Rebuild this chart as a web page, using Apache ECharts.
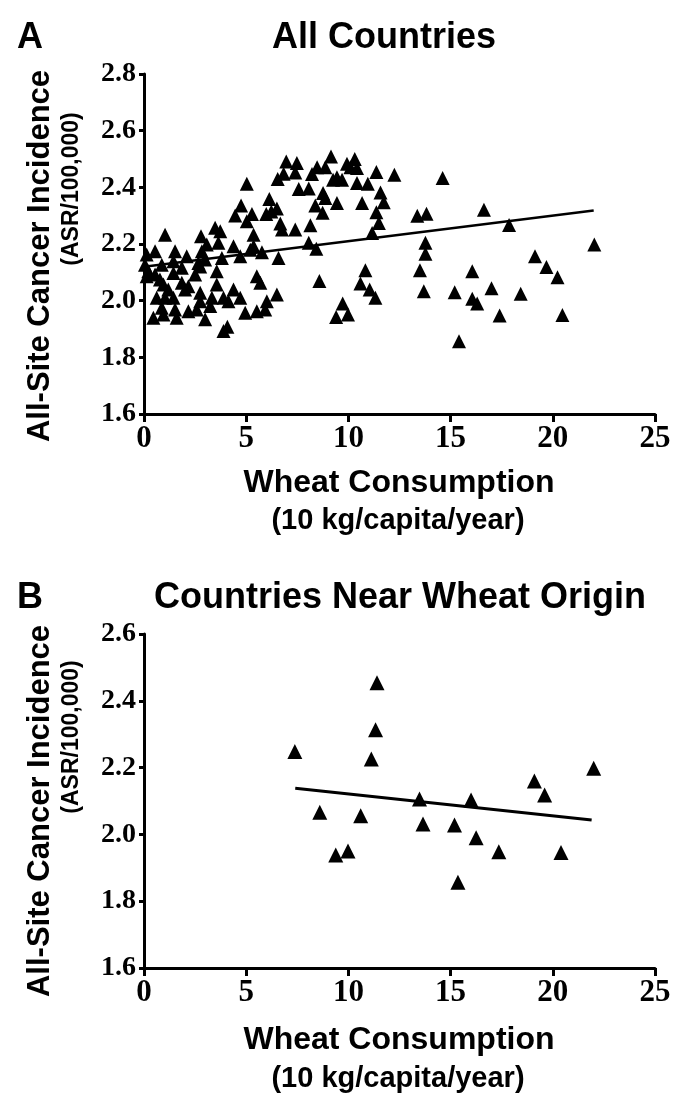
<!DOCTYPE html>
<html>
<head>
<meta charset="utf-8">
<script src="https://cdn.jsdelivr.net/npm/echarts/dist/echarts.min.js"></script>
<style>
html,body{margin:0;padding:0;background:#fff;}
#chart{width:685px;height:1110px;}
</style>
</head>
<body>
<div id="chart"></div>
<script>
// ---- Data ----
// Panel A: all countries (wheat consumption, 10 kg/capita/year ; all-site cancer incidence)
const allX = [
 6.96,7.48,8.47,6.83,7.40,8.22,6.54,5.03,7.57,8.06,6.13,8.38,4.75,6.50,4.46,5.28,5.98,6.23,5.03,6.67,
 3.48,3.73,7.40,8.14,6.75,1.03,2.79,5.36,
 9.15,8.87,9.93,10.31,10.42,10.10,9.44,9.25,9.69,11.37,12.25,10.42,10.95,14.61,8.76,11.57,8.87,9.44,
 10.67,11.73,8.74,11.37,13.37,13.82,16.63,11.49,11.16,17.86,
 8.43,13.77,13.77,13.50,10.83,16.06,8.58,10.59,11.04,11.32,13.69,15.20,17.00,16.06,16.30,9.72,9.40,
 9.98,17.40,15.41,
 22.03,19.13,19.69,20.23,18.43,20.47,
 3.64,5.36,3.07,2.83,4.38,5.20,5.77,8.06,0.13,0.54,1.52,2.09,1.44,2.66,2.99,3.81,4.71,6.58,0.05,0.21,
 0.87,1.85,2.75,3.56,0.13,0.54,0.78,1.44,2.50,5.52,5.69,0.95,1.85,2.17,3.56,1.19,2.01,2.75,4.38,0.62,
 1.03,1.44,2.75,3.32,3.89,4.71,6.50,0.87,1.52,2.17,2.58,3.24,4.13,4.95,5.52,5.93,6.01,0.46,0.95,1.60,
 2.99,3.89,4.08
];
const allY = [
 2.491,2.486,2.471,2.448,2.452,2.447,2.429,2.413,2.394,2.396,2.359,2.336,2.336,2.325,2.301,2.306,2.306,2.315,2.280,2.272,
 2.257,2.245,2.251,2.266,2.251,2.233,2.227,2.233,
 2.509,2.471,2.483,2.500,2.468,2.471,2.436,2.427,2.427,2.454,2.444,2.415,2.413,2.433,2.380,2.382,2.362,2.345,
 2.345,2.347,2.310,2.312,2.300,2.307,2.321,2.274,2.239,2.267,
 2.183,2.204,2.166,2.107,2.107,2.104,2.069,2.061,2.039,2.010,2.033,2.030,2.044,2.007,1.990,1.990,1.942,
 1.951,1.948,1.857,
 2.198,2.157,2.119,2.083,2.024,1.949,
 2.204,2.192,2.198,2.174,2.192,2.180,2.171,2.204,2.163,2.174,2.174,2.157,2.139,2.133,2.145,2.151,2.157,2.151,2.127,2.104,
 2.127,2.116,2.121,2.104,2.086,2.092,2.075,2.098,2.092,2.086,2.063,2.057,2.063,2.051,2.057,2.039,2.039,2.028,2.039,2.010,
 2.010,2.010,1.998,2.010,2.010,2.010,2.022,1.975,1.969,1.963,1.969,1.981,1.998,1.957,1.963,1.969,1.998,1.940,1.951,1.940,
 1.934,1.893,1.908
];
// Panel A regression line end points
const fitAX = [0, 22.0];
const fitAY = [2.12, 2.318];

// Panel B: countries near wheat origin
const nearX = [7.38,8.60,9.38,9.98,10.60,11.12,11.33,11.40,13.48,13.65,15.19,15.36,16.00,16.25,17.36,19.10,19.60,20.40,22.00];
const nearY = [2.248,2.066,1.938,1.950,2.056,2.226,2.313,2.454,2.106,2.031,2.028,1.857,2.103,1.990,1.948,2.160,2.118,1.946,2.198];
// Panel B regression line end points
const fitBX = [7.4, 21.9];
const fitBY = [2.138, 2.043];

// Tick settings
const xTicks = {min: 0, max: 25, step: 5};
const yTicksA = {min: 1.6, max: 2.8, step: 0.2};
const yTicksB = {min: 1.6, max: 2.6, step: 0.2};

// Texts
const panelTitles = ['All Countries', 'Countries Near Wheat Origin'];
const panelLetters = ['A', 'B'];
const yTitle = 'All-Site Cancer Incidence';
const ySub = '(ASR/100,000)';
const xTitle = 'Wheat Consumption';
const xSub = '(10 kg/capita/year)';

// ---- Build chart ----
const zip = (xs, ys) => xs.map((x, i) => [x, ys[i]]);
const sans = 'Liberation Sans, Arial, sans-serif';
const serif = 'Liberation Serif, Times New Roman, serif';

function xAxisCfg(gi) {
  return {
    type: 'value', gridIndex: gi, min: xTicks.min, max: xTicks.max, interval: xTicks.step,
    axisLine: {show: true, lineStyle: {color: '#000', width: 3}},
    axisTick: {show: true, length: 8, lineStyle: {color: '#000', width: 3}},
    axisLabel: {color: '#000', fontFamily: serif, fontWeight: 'bold', fontSize: 31, margin: 9},
    splitLine: {show: false}
  };
}
function yAxisCfg(gi, t) {
  return {
    type: 'value', gridIndex: gi, min: t.min, max: t.max, interval: t.step,
    axisLine: {show: true, lineStyle: {color: '#000', width: 3}},
    axisTick: {show: true, length: 5, lineStyle: {color: '#000', width: 3}},
    axisLabel: {color: '#000', fontFamily: serif, fontWeight: 'bold', fontSize: 28, margin: 8,
      formatter: v => v.toFixed(1)},
    splitLine: {show: false}
  };
}
function txt(text, x, y, size, rot) {
  return {
    type: 'text', x: x, y: y, rotation: rot || 0,
    style: {text: text, fill: '#000', font: 'bold ' + size + 'px ' + sans,
      textAlign: 'center', textVerticalAlign: 'middle'}
  };
}
function letter(text, x, y) {
  return {
    type: 'text', x: x, y: y,
    style: {text: text, fill: '#000', font: 'bold 36px ' + sans,
      textAlign: 'left', textVerticalAlign: 'middle'}
  };
}

const chart = echarts.init(document.getElementById('chart'), null, {renderer: 'canvas'});
chart.setOption({
  animation: false,
  backgroundColor: '#fff',
  grid: [
    {left: 144, top: 74, width: 511, height: 340},
    {left: 144, top: 634, width: 511, height: 334}
  ],
  xAxis: [xAxisCfg(0), xAxisCfg(1)],
  yAxis: [yAxisCfg(0, yTicksA), yAxisCfg(1, yTicksB)],
  series: [
    {type: 'scatter', xAxisIndex: 0, yAxisIndex: 0, symbol: 'triangle', symbolSize: 14,
      itemStyle: {color: '#000', opacity: 1}, data: zip(allX, allY)},
    {type: 'line', xAxisIndex: 0, yAxisIndex: 0, symbol: 'none', z: 3,
      lineStyle: {color: '#000', width: 2.5}, data: zip(fitAX, fitAY)},
    {type: 'scatter', xAxisIndex: 1, yAxisIndex: 1, symbol: 'triangle', symbolSize: 15,
      itemStyle: {color: '#000', opacity: 1}, data: zip(nearX, nearY)},
    {type: 'line', xAxisIndex: 1, yAxisIndex: 1, symbol: 'none', z: 3,
      lineStyle: {color: '#000', width: 3}, data: zip(fitBX, fitBY)}
  ],
  graphic: [
    letter(panelLetters[0], 17, 38),
    txt(panelTitles[0], 384, 38, 36),
    txt(yTitle, 40, 256, 31, Math.PI / 2),
    txt(ySub, 72, 189, 23, Math.PI / 2),
    txt(xTitle, 399, 483, 32),
    txt(xSub, 398, 521, 29),
    letter(panelLetters[1], 17, 598),
    txt(panelTitles[1], 400, 598, 36),
    txt(yTitle, 40, 811, 31, Math.PI / 2),
    txt(ySub, 72, 737, 23, Math.PI / 2),
    txt(xTitle, 399, 1040, 32),
    txt(xSub, 398, 1079, 29)
  ]
});
</script>
</body>
</html>
